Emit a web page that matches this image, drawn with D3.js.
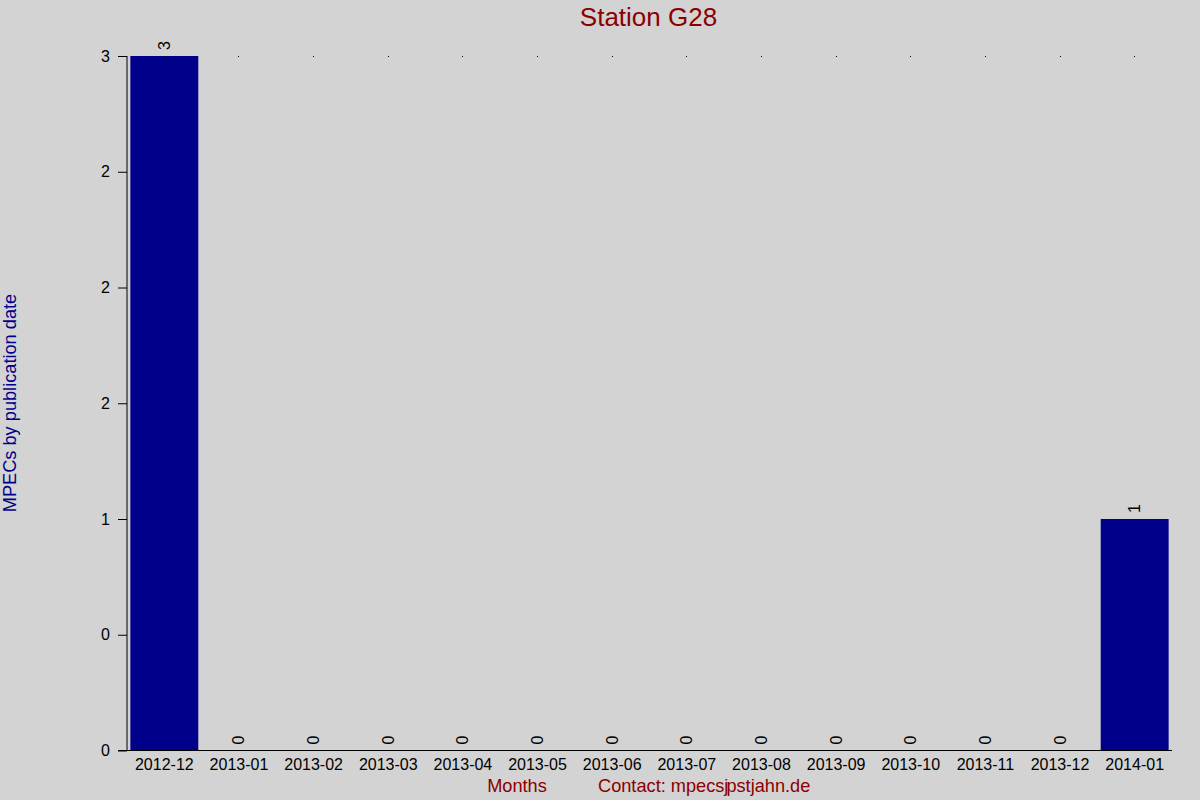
<!DOCTYPE html>
<html>
<head>
<meta charset="utf-8">
<script src="https://cdn.jsdelivr.net/npm/d3@7"></script>
<style>
  html, body { margin: 0; padding: 0; background: #d3d3d3; }
  svg { display: block; }
  text { font-family: "Liberation Sans", Arial, sans-serif; }
</style>
</head>
<body>
<script>
const months = ["2012-12","2013-01","2013-02","2013-03","2013-04","2013-05","2013-06",
                "2013-07","2013-08","2013-09","2013-10","2013-11","2013-12","2014-01"];
const counts = [3,0,0,0,0,0,0,0,0,0,0,0,0,1];
const yTickValues = [0, 0.5, 1, 1.5, 2, 2.5, 3];
const yTickLabels = ["0","0","1","2","2","2","3"];
const titleText = "Station G28";
const yTitle = "MPECs by publication date";
const xTitle = "Months";

const W = 1200, H = 800;
const svg = d3.select("body").append("svg").attr("width", W).attr("height", H);
svg.append("rect").attr("width", W).attr("height", H).attr("fill", "#d3d3d3");

const pLeft = 127, pRight = 1172, pTop = 56, pBottom = 750.5;
const x = d3.scaleBand().domain(months).range([pLeft, pRight]).paddingInner(0.09).paddingOuter(0.045);
const y = d3.scaleLinear().domain([0, d3.max(counts)]).range([pBottom, pTop]);

// bars
svg.append("g").selectAll("rect").data(counts).join("rect")
  .attr("x", (d,i) => x(months[i]))
  .attr("y", d => y(d))
  .attr("width", x.bandwidth())
  .attr("height", d => y(0) - y(d))
  .attr("fill", "#00008b");

// small dots at top
svg.append("g").attr("shape-rendering", "crispEdges").selectAll("rect").data(months).join("rect")
  .attr("x", d => Math.floor(x(d) + x.bandwidth()/2))
  .attr("y", Math.floor(y(d3.max(counts))))
  .attr("width", 1).attr("height", 1)
  .attr("fill", "#000");

// value labels
svg.append("g").selectAll("text").data(counts).join("text")
  .attr("transform", (d,i) => `translate(${x(months[i]) + x.bandwidth()/2 + 5.5},${y(d) - 6}) rotate(-90)`)
  .attr("text-anchor", "start")
  .attr("font-size", 16)
  .attr("fill", "#000")
  .text(d => d);

// y axis
const yAxis = d3.axisLeft(y).tickValues(yTickValues).tickSize(9).tickPadding(8)
  .tickFormat((d,i) => yTickLabels[i]);
const gy = svg.append("g").attr("transform", `translate(${pLeft},0)`).call(yAxis);
gy.select(".domain").attr("d", `M0,${pTop}V${pBottom}`).attr("stroke", "#000");
gy.selectAll(".tick line").attr("stroke", "#000");
gy.selectAll(".tick text").attr("font-size", 16).attr("fill", "#000")
  .attr("font-family", "Liberation Sans, Arial, sans-serif");

// x axis
const xAxis = d3.axisBottom(x).tickSize(0).tickPadding(8);
const gx = svg.append("g").attr("transform", `translate(0,${pBottom})`).call(xAxis);
gx.select(".domain").attr("d", `M${pLeft - 9},0H${pRight}`).attr("stroke", "#000");
gx.selectAll(".tick text").attr("font-size", 16).attr("fill", "#000")
  .attr("font-family", "Liberation Sans, Arial, sans-serif");

// title
svg.append("text").attr("x", 648.5).attr("y", 26).attr("text-anchor", "middle")
  .attr("font-size", 26).attr("fill", "#8b0000").text(titleText);

// y title
svg.append("text").attr("transform", `translate(16,403) rotate(-90)`).attr("text-anchor", "middle")
  .attr("font-size", 18.2).attr("fill", "#00008b").text(yTitle);

// x title and contact
svg.append("text").attr("x", 517).attr("y", 792).attr("text-anchor", "middle")
  .attr("font-size", 18.2).attr("fill", "#8b0000").text(xTitle);
const contact = svg.append("text").attr("x", 598).attr("y", 792).attr("text-anchor", "start")
  .attr("font-size", 18.2).attr("fill", "#8b0000");
contact.append("tspan").text("Contact: mpecsj");
contact.append("tspan").attr("dx", -2).text("pstjahn.de");
</script>
</body>
</html>
